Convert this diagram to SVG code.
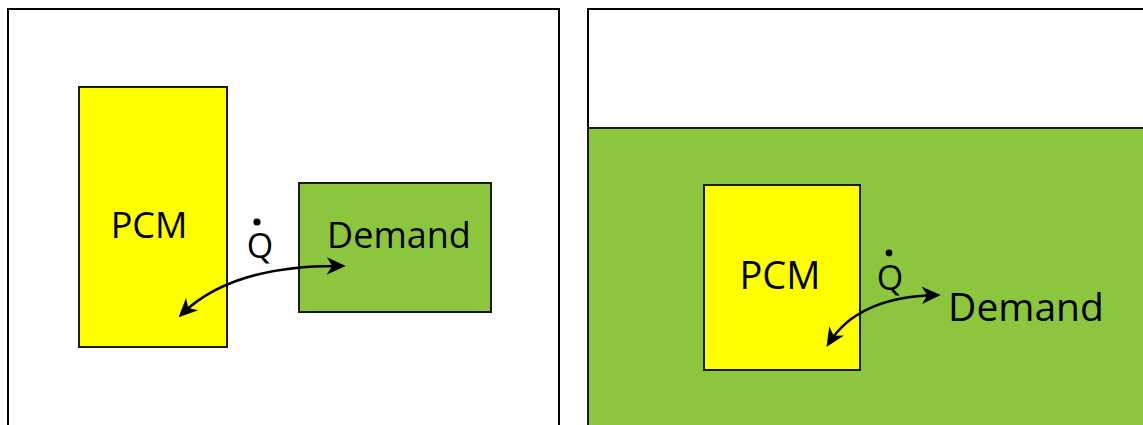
<svg xmlns="http://www.w3.org/2000/svg" width="1143" height="425" viewBox="0 0 1143 425">
<style>
.frame{fill:#fff;stroke:#000;stroke-width:2}
.pcm{fill:#ffff00;stroke:#1a1a1a;stroke-width:2}
.green{fill:#8cc63f;stroke:#1a1a1a;stroke-width:2}
.t{font-family:"Open Sans","Liberation Sans",sans-serif;fill:#000}
.arr{fill:none;stroke:#000;stroke-width:2.6;marker-start:url(#ah);marker-end:url(#ah)}
</style>
<defs>
<marker id="ah" viewBox="0 0 12 12" refX="9" refY="6" markerWidth="19" markerHeight="19" markerUnits="userSpaceOnUse" orient="auto-start-reverse">
<path d="M0,0.5 L12,6 L0,11.5 L3.5,6 Z" fill="#000"/>
</marker>
</defs>
<rect width="1143" height="425" fill="#fff"/>
<g id="left-panel">
<rect class="frame" x="8" y="9" width="551" height="430"/>
</g>
<g id="right-panel">
<rect class="frame" x="588" y="9" width="570" height="430"/>
<rect class="green" x="588" y="128" width="570" height="310"/>
</g>
<g id="left-pcm">
<rect class="pcm" x="79" y="87" width="148" height="260"/>
<text class="t" x="149" y="238" font-size="36" text-anchor="middle">PCM</text>
</g>
<g id="left-demand">
<rect class="green" x="299" y="183" width="192" height="129"/>
<text class="t" x="399" y="248" font-size="36" text-anchor="middle">Demand</text>
</g>
<g id="right-pcm">
<rect class="pcm" x="704" y="185" width="156" height="185"/>
<text class="t" x="780" y="289" font-size="38" text-anchor="middle">PCM</text>
</g>
<g id="right-demand">
<text class="t" x="1026" y="321" font-size="39" text-anchor="middle">Demand</text>
</g>
<g id="labels">
<text class="t" x="260" y="258" font-size="34" text-anchor="middle">Q</text>
<circle cx="257" cy="222" r="3.6" fill="#000"/>
<text class="t" x="890" y="290" font-size="34" text-anchor="middle">Q</text>
<circle cx="889" cy="253" r="3.4" fill="#000"/>
</g>
<g id="connectors">
<path class="arr" d="M182,314 Q232,265 341,266"/>
<path class="arr" d="M829,343 Q858,297 936,295"/>
</g>
</svg>
